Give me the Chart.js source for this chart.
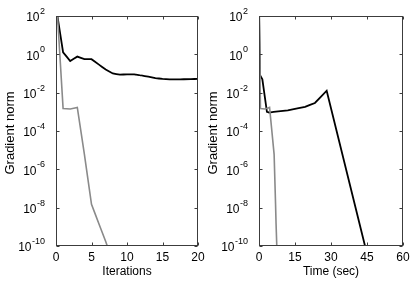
<!DOCTYPE html>
<html>
<head>
<meta charset="utf-8">
<script src="https://cdn.jsdelivr.net/npm/chart.js@4.4.0/dist/chart.umd.min.js"></script>
<style>
html, body { margin:0; padding:0; background:#fff; }
#wrap { position:relative; width:414px; height:281px; overflow:hidden; }
canvas { position:absolute; top:0; }
</style>
</head>
<body>
<div id="wrap">
<canvas id="iterChart" width="207" height="281" style="left:0px"></canvas>
<canvas id="timeChart" width="207" height="281" style="left:207px"></canvas>
</div>
<script>
// left panel: gradient norm per iteration
var iterBlackX = [0,1,2,3,4,5,6,7,8,9,10,11,12,13,14,15,16,17,18,19,20];
var iterBlackY = [300,1.26,0.45,0.76,0.56,0.56,0.30,0.16,0.10,0.087,0.09,0.09,0.08,0.068,0.058,0.052,0.049,0.049,0.05,0.051,0.052];
var iterGrayX = [0,1,2,3,4,5,6,7,8];
var grayY = [2000,0.0015,0.0014,0.0017,6e-6,1.5e-8,1.6e-9,1.7e-10,1.5e-11];

// right panel: gradient norm against time
var timeBlackX = [0,0.4,1.4,3.3,4.2,8,12,16,19.2,23.3,28.2,46];
var timeBlackY = [300,0.083,0.05,0.001,0.00092,0.00105,0.0012,0.0015,0.0018,0.0029,0.0126,1.2e-11];
var timeGrayX = [0,0.6,2.4,4.4,6.3,6.9,7.1,7.35,7.6];

var iterTicks = [0,5,10,15,20];
var timeTicks = [0,15,30,45,60];
var yTickExps = [2,0,-2,-4,-6,-8,-10];

var FONT = '"Liberation Sans", Arial, Helvetica, sans-serif';

function pts(xs, ys) {
  var out = [];
  for (var i = 0; i < xs.length; i++) out.push({x: xs[i], y: ys[i]});
  return out;
}

var boxPlugin = {
  id: 'matlabBox',
  afterDraw: function(chart) {
    var o = chart.options.plugins.matlabBox;
    var ctx = chart.ctx, a = chart.chartArea;
    var xs = chart.scales.x, ys = chart.scales.y;
    var L = Math.round(a.left) + 0.5, R = Math.round(a.right) - 0.5;
    var T = Math.round(a.top) + 0.5, B = Math.round(a.bottom) - 0.5;
    ctx.save();
    ctx.strokeStyle = '#3c3c3c';
    ctx.lineWidth = 1;
    ctx.strokeRect(L, T, R - L, B - T);

    ctx.beginPath();
    o.xTicks.forEach(function(v) {
      var px = Math.round(xs.getPixelForValue(v)) + 0.5;
      ctx.moveTo(px, B); ctx.lineTo(px, B - 3);
      ctx.moveTo(px, T); ctx.lineTo(px, T + 3);
    });
    yTickExps.forEach(function(e) {
      var py = Math.round(ys.getPixelForValue(Math.pow(10, e))) + 0.5;
      ctx.moveTo(L, py); ctx.lineTo(L + 3, py);
      ctx.moveTo(R, py); ctx.lineTo(R - 3, py);
    });
    ctx.stroke();

    ctx.fillStyle = '#000';
    ctx.font = '12px ' + FONT;
    ctx.textAlign = 'center';
    ctx.textBaseline = 'middle';
    o.xTicks.forEach(function(v) {
      ctx.fillText(String(v), xs.getPixelForValue(v), a.bottom + 12);
    });
    ctx.fillText(o.xTitle, (a.left + a.right) / 2, a.bottom + 26);

    // y tick labels 10^e
    var xr = a.left - 11;
    yTickExps.forEach(function(e) {
      var py = ys.getPixelForValue(Math.pow(10, e));
      var ex = String(e);
      ctx.font = '9px ' + FONT;
      var ew = ctx.measureText(ex).width;
      ctx.textAlign = 'left';
      ctx.textBaseline = 'alphabetic';
      ctx.fillText(ex, xr - ew, py - 2);
      ctx.font = '12px ' + FONT;
      ctx.textAlign = 'right';
      ctx.textBaseline = 'middle';
      ctx.fillText('10', xr - ew - 0.5, py + 2);
    });

    ctx.translate(a.left - 46, (a.top + a.bottom) / 2 + 2);
    ctx.rotate(-Math.PI / 2);
    ctx.font = '13px ' + FONT;
    ctx.textAlign = 'center';
    ctx.textBaseline = 'middle';
    ctx.fillText('Gradient norm', 0, 0);
    ctx.restore();
  }
};

function makeChart(id, blackPts, grayPts, xMax, xTicks, xTitle, yWidth, padRight) {
  // tiny tension keeps Chart.js off its fast path, which drops steep segments
  return new Chart(document.getElementById(id), {
    type: 'line',
    data: {
      datasets: [
        {data: grayPts, borderColor: '#8a8a8a', borderWidth: 1.6, pointRadius: 0, tension: 1e-6, fill: false},
        {data: blackPts, borderColor: '#000', borderWidth: 1.8, pointRadius: 0, tension: 1e-6, fill: false}
      ]
    },
    options: {
      responsive: false,
      animation: false,
      events: [],
      layout: {padding: {top: 16, right: padRight, left: 0, bottom: 0}},
      plugins: {
        legend: {display: false},
        tooltip: {enabled: false},
        matlabBox: {xTicks: xTicks, xTitle: xTitle}
      },
      scales: {
        x: {
          type: 'linear', min: 0, max: xMax,
          grid: {display: false}, border: {display: false},
          ticks: {display: false},
          afterFit: function(s) { s.height = 35; }
        },
        y: {
          type: 'logarithmic', min: 1e-10, max: 1e2,
          grid: {display: false}, border: {display: false},
          ticks: {display: false},
          afterFit: function(s) { s.width = yWidth; }
        }
      }
    },
    plugins: [boxPlugin]
  });
}

makeChart('iterChart', pts(iterBlackX, iterBlackY), pts(iterGrayX, grayY), 20, iterTicks, 'Iterations', 56, 9);
makeChart('timeChart', pts(timeBlackX, timeBlackY), pts(timeGrayX, grayY), 60, timeTicks, 'Time (sec)', 52, 11);
</script>
</body>
</html>
